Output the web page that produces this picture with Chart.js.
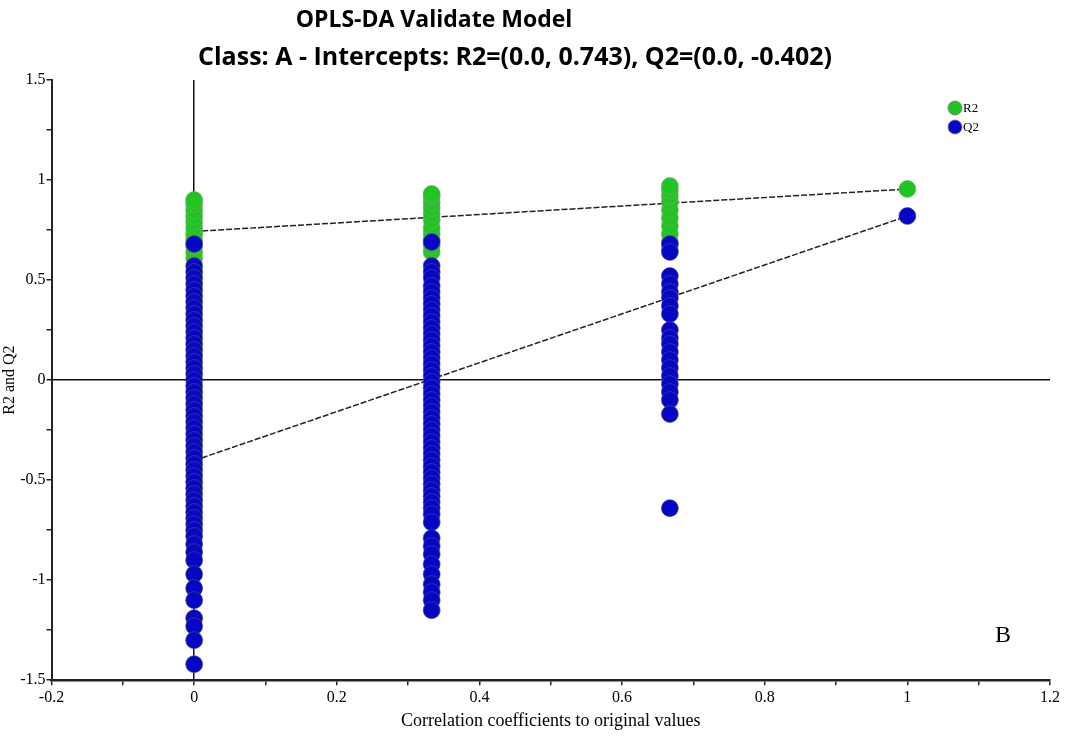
<!DOCTYPE html>
<html>
<head>
<meta charset="utf-8">
<script src="https://cdn.jsdelivr.net/npm/chart.js@4/dist/chart.umd.min.js"></script>
<style>
  html, body { margin: 0; padding: 0; background: #fff; }
  #wrap { width: 1066px; height: 738px; position: relative; }
</style>
</head>
<body>
<div id="wrap"><canvas id="c"></canvas></div>
<script>
// ---- Data ----
const titleLine1 = "OPLS-DA Validate Model";
const titleLine2 = "Class: A - Intercepts: R2=(0.0, 0.743), Q2=(0.0, -0.402)";
const permX = [0, 0.333, 0.667, 1];   // correlation coefficient of each permutation column

const r2Col0 = [0.61, 0.64, 0.67, 0.70, 0.73, 0.76, 0.79, 0.82, 0.85, 0.88, 0.90];
const r2Col1 = [0.64, 0.67, 0.70, 0.73, 0.76, 0.80, 0.83, 0.86, 0.89, 0.92, 0.93];
const r2Col2 = [0.65, 0.69, 0.73, 0.77, 0.81, 0.85, 0.89, 0.92, 0.95, 0.97];
const r2Col3 = [0.955];

const q2Col0 = [0.68, 0.57, 0.54, 0.51, 0.48, 0.45, 0.42, 0.39, 0.36, 0.33, 0.30, 0.27, 0.24, 0.21,
  0.18, 0.15, 0.12, 0.09, 0.06, 0.03, 0.0, -0.03, -0.06, -0.09, -0.12, -0.15, -0.18, -0.21, -0.24,
  -0.27, -0.30, -0.33, -0.36, -0.39, -0.42, -0.45, -0.48, -0.51, -0.54, -0.57, -0.60, -0.63, -0.66,
  -0.69, -0.72, -0.75, -0.78, -0.82, -0.86, -0.90, -0.97, -1.04, -1.10, -1.19, -1.23, -1.30, -1.42];
const q2Col1 = [0.69, 0.57, 0.54, 0.51, 0.47, 0.44, 0.41, 0.38, 0.35, 0.32, 0.29, 0.26, 0.23, 0.20,
  0.17, 0.14, 0.11, 0.08, 0.05, 0.02, -0.01, -0.04, -0.07, -0.10, -0.13, -0.16, -0.19, -0.22, -0.25,
  -0.28, -0.31, -0.34, -0.37, -0.40, -0.43, -0.46, -0.49, -0.52, -0.55, -0.58, -0.61, -0.64, -0.67,
  -0.71, -0.79, -0.83, -0.87, -0.92, -0.97, -1.02, -1.06, -1.10, -1.15];
const q2Col2 = [0.68, 0.64, 0.52, 0.48, 0.44, 0.41, 0.37, 0.33, 0.25, 0.21, 0.18, 0.14, 0.10, 0.06,
  0.02, -0.02, -0.06, -0.10, -0.17, -0.64];
const q2Col3 = [0.82];

const r2Intercept = 0.743;
const q2Intercept = -0.402;

const xTickMin = -0.2, xTickMax = 1.2;
const yTickMin = -1.5, yTickMax = 1.5;

// ---- Build point lists ----
function toPoints(cols) {
  const pts = [];
  cols.forEach((vals, i) => vals.forEach(v => pts.push({ x: permX[i], y: v })));
  return pts;
}
const r2Points = toPoints([r2Col0, r2Col1, r2Col2, r2Col3]);
const q2Points = toPoints([q2Col0, q2Col1, q2Col2, q2Col3]);
const r2Line = [{ x: 0, y: r2Intercept }, { x: permX[3], y: r2Col3[0] }];
const q2Line = [{ x: 0, y: q2Intercept }, { x: permX[3], y: q2Col3[0] }];

const GREEN = '#22c422';
const BLUE = '#0606c4';
const SERIF = '"Liberation Serif", "DejaVu Serif", serif';
const SANS = '"Open Sans", "Noto Sans", sans-serif';

// titles, custom legend and panel letter
const extras = {
  id: 'extras',
  afterDraw(chart) {
    const { ctx, chartArea } = chart;
    ctx.save();
    // two-line title
    ctx.fillStyle = '#000';
    ctx.textAlign = 'center';
    ctx.textBaseline = 'middle';
    ctx.font = 'bold 23px ' + SANS;
    ctx.fillText(titleLine1, 434, 20);
    ctx.font = 'bold 25px ' + SANS;
    ctx.fillText(titleLine2, 515, 58);

    // legend
    const items = [
      { label: chart.data.datasets[1].label, color: GREEN },
      { label: chart.data.datasets[0].label, color: BLUE }
    ];
    items.forEach((it, i) => {
      const cx = chartArea.right - 95, cy = chartArea.top + 28 + i * 19;
      ctx.beginPath();
      ctx.arc(cx, cy, 7, 0, Math.PI * 2);
      ctx.fillStyle = it.color;
      ctx.fill();
      ctx.lineWidth = 0.8;
      ctx.strokeStyle = '#777';
      ctx.stroke();
      ctx.fillStyle = '#000';
      ctx.font = '13px ' + SERIF;
      ctx.textBaseline = 'middle';
      ctx.textAlign = 'left';
      ctx.fillText(it.label, cx + 8, cy + 1);
    });
    // panel letter
    ctx.font = '24px ' + SERIF;
    ctx.fillStyle = '#000';
    ctx.textAlign = 'left';
    ctx.textBaseline = 'middle';
    ctx.fillText('B', chartArea.right - 55, chartArea.bottom - 44);
    ctx.restore();
  }
};

const isZero = v => Math.abs(v) < 1e-9;

new Chart(document.getElementById('c'), {
  type: 'scatter',
  data: {
    datasets: [
      { label: 'Q2', data: q2Points, backgroundColor: BLUE, borderColor: '#556', borderWidth: 0.6,
        pointRadius: 8.5, pointHoverRadius: 8.5, order: 0 },
      { label: 'R2', data: r2Points, backgroundColor: GREEN, borderColor: '#7a7', borderWidth: 0.6,
        pointRadius: 8.5, pointHoverRadius: 8.5, order: 1 },
      { label: 'R2 regression', type: 'line', data: r2Line, borderColor: '#222', borderWidth: 1.5,
        borderDash: [6, 2], pointRadius: 0, fill: false, order: 2 },
      { label: 'Q2 regression', type: 'line', data: q2Line, borderColor: '#222', borderWidth: 1.5,
        borderDash: [6, 2], pointRadius: 0, fill: false, order: 3 }
    ]
  },
  options: {
    responsive: true,
    maintainAspectRatio: false,
    animation: false,
    layout: { padding: { left: 0, right: 16, top: 80, bottom: 6 } },
    plugins: {
      legend: { display: false },
      tooltip: { enabled: false },
      title: { display: false }
    },
    scales: {
      x: {
        type: 'linear',
        min: xTickMin, max: xTickMax,
        border: { display: true, color: '#222', width: 2.5 },
        grid: {
          color: c => isZero(c.tick.value) ? '#111' : 'rgba(0,0,0,0)',
          lineWidth: 1.5,
          tickColor: '#222',
          tickLength: 5,
          drawTicks: true
        },
        ticks: {
          stepSize: 0.1,
          autoSkip: false,
          maxRotation: 0,
          color: '#000',
          padding: 3,
          font: { family: SERIF, size: 16 },
          callback: v => (Math.round(v * 10) % 2 === 0) ? String(Math.round(v * 10) / 10) : ''
        },
        title: {
          display: true,
          text: 'Correlation coefficients to original values',
          color: '#000',
          font: { family: SERIF, size: 18 },
          padding: { top: 0, bottom: 0 }
        }
      },
      y: {
        type: 'linear',
        min: yTickMin, max: yTickMax,
        border: { display: true, color: '#222', width: 2 },
        grid: {
          color: c => isZero(c.tick.value) ? '#111' : 'rgba(0,0,0,0)',
          lineWidth: 1.5,
          tickColor: '#222',
          tickLength: 5
        },
        ticks: {
          stepSize: 0.25,
          autoSkip: false,
          color: '#000',
          padding: 1,
          font: { family: SERIF, size: 16 },
          callback: v => (Math.abs(v * 2 - Math.round(v * 2)) < 1e-9) ? String(Math.round(v * 2) / 2) : ''
        },
        title: {
          display: true,
          text: 'R2 and Q2',
          color: '#000',
          font: { family: SERIF, size: 16 },
          padding: { top: 0, bottom: 0 }
        }
      }
    }
  },
  plugins: [extras]
});
</script>
</body>
</html>
